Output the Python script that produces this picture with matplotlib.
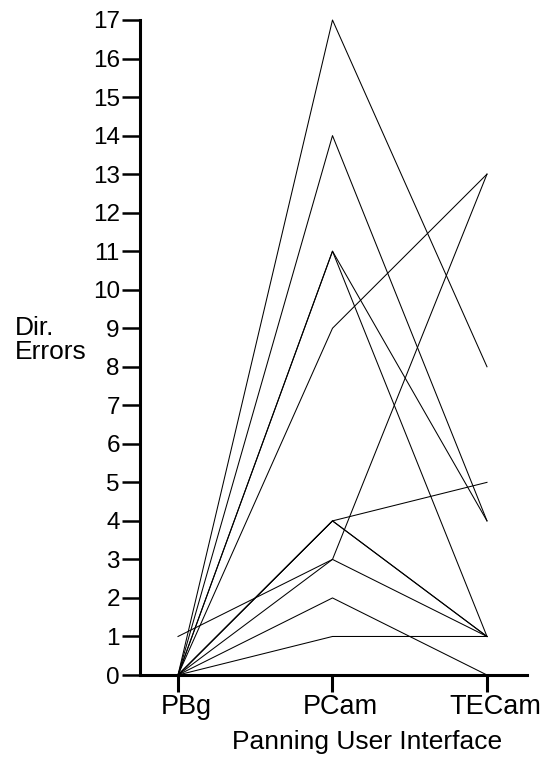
import matplotlib
matplotlib.use("Agg")
import matplotlib.pyplot as plt
import matplotlib.transforms as mtransforms

# Data: one entry per participant, directional errors per interface
interfaces = ["PBg", "PCam", "TECam"]
pbg_errors = [0, 0, 0, 0, 0, 0, 0, 0, 0, 1, 0, 0]
pcam_errors = [17, 14, 11, 11, 9, 4, 4, 4, 3, 3, 2, 1]
tecam_errors = [8, 4, 4, 1, 13, 5, 1, 1, 13, 1, 0, 1]
y_ticks = list(range(0, 18))

plt.rcParams['font.family'] = ['Liberation Sans', 'DejaVu Sans']

W, H = 550, 759
fig = plt.figure(figsize=(W / 100, H / 100), dpi=100)
ax = fig.add_axes([140 / W, (H - 675) / H, (527 - 140) / W, (675 - 20) / H])

xs = list(range(len(interfaces)))
for a, b, c in zip(pbg_errors, pcam_errors, tecam_errors):
    ax.plot(xs, [a, b, c], color='black', lw=0.75, clip_on=False)

ax.set_xlim(-0.246, 2.259)
ax.set_ylim(0, 17)
ax.spines['top'].set_visible(False)
ax.spines['right'].set_visible(False)
ax.spines['left'].set_linewidth(2.2)
ax.spines['bottom'].set_linewidth(2.2)

ax.set_yticks(y_ticks)
ax.set_yticklabels([str(t) for t in y_ticks], fontsize=17.5)
ax.set_xticks(xs)
ax.set_xticklabels(interfaces, fontsize=19.5)
ax.tick_params(axis='y', direction='out', length=13, width=1.8, pad=1.5)
ax.tick_params(axis='x', direction='out', length=12, width=2.2, pad=1.5)

offset = mtransforms.ScaledTranslation(8 / 100, 0, fig.dpi_scale_trans)
for lbl in ax.get_xticklabels():
    lbl.set_transform(lbl.get_transform() + offset)

fig.text(15 / W, (H - 340) / H, "Dir.\nErrors", ha='left', va='center',
         fontsize=19, linespacing=0.95, multialignment='left')
fig.text(367 / W, (H - 742) / H, "Panning User Interface", ha='center', va='center',
         fontsize=19)

fig.savefig("out.png", dpi=100)
